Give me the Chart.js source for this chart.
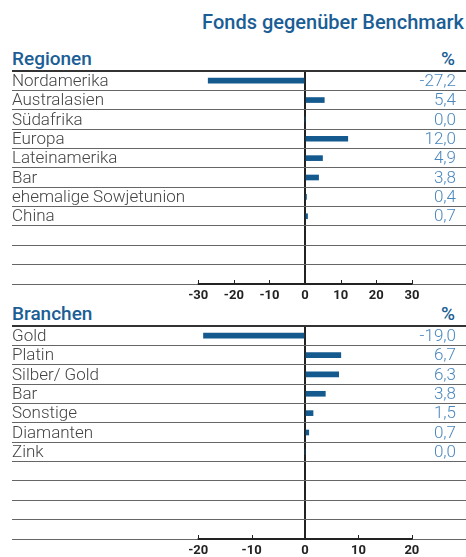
<!DOCTYPE html>
<html><head><meta charset="utf-8">
<script src="https://cdn.jsdelivr.net/npm/chart.js@4/dist/chart.umd.min.js"></script>
<style>
html,body{margin:0;padding:0;background:#fff;width:466px;height:557px;overflow:hidden;font-family:Roboto,sans-serif;}
.t{position:absolute;color:#1b5e95;font-weight:500;white-space:nowrap;line-height:1;font-size:19px;}
.box{position:absolute;left:0;width:466px;}
</style></head><body>
<div class="t" style="right:2px;top:12px;font-size:20px;">Fonds gegenüber Benchmark</div>
<div class="t" style="left:12px;top:49px;">Regionen</div>
<div class="t" style="right:11px;top:49px;">%</div>
<div class="t" style="left:12px;top:304px;">Branchen</div>
<div class="t" style="right:11px;top:304px;">%</div>
<div class="box" style="top:60px;height:250px"><canvas id="c1"></canvas></div>
<div class="box" style="top:315px;height:242px"><canvas id="c2"></canvas></div>
<script>
const regionLabels = ['Nordamerika','Australasien','Südafrika','Europa','Lateinamerika','Bar','ehemalige Sowjetunion','China'];
const regionValues = [-27.2, 5.4, 0.0, 12.0, 4.9, 3.8, 0.4, 0.7];
const regionTicks = [-30, -20, -10, 0, 10, 20, 30];
const regionBlankRows = 3;

const sectorLabels = ['Gold','Platin','Silber/ Gold','Bar','Sonstige','Diamanten','Zink'];
const sectorValues = [-19.0, 6.7, 6.3, 3.8, 1.5, 0.7, 0.0];
const sectorTicks = [-20, -10, 0, 10, 20];
const sectorBlankRows = 4;

const fmt = v => v.toFixed(1).replace('.', ',');

const axisLinePlugin = {
  id: 'axisLine',
  afterDraw(chart) {
    const xs = chart.scales.x, ctx = chart.ctx, y = chart.chartArea.bottom;
    const t = xs.ticks;
    ctx.save();
    ctx.strokeStyle = '#222';
    ctx.lineWidth = 2;
    ctx.beginPath();
    ctx.moveTo(xs.getPixelForValue(t[0].value) - 0.5, y);
    ctx.lineTo(xs.getPixelForValue(t[t.length - 1].value) + 0.5, y);
    ctx.stroke();
    ctx.lineWidth = 1;
    t.forEach(tk => {
      const px = Math.round(xs.getPixelForValue(tk.value)) + 0.5;
      ctx.beginPath(); ctx.moveTo(px, y); ctx.lineTo(px, y - 4); ctx.stroke();
    });
    ctx.restore();
  }
};

function makeChart(id, labels, values, ticks, blanks, min, max, axisH) {
  const rowLabels = labels.concat(Array(blanks).fill(''));
  const rowValues = values.concat(Array(blanks).fill(null));
  const valueLabels = values.map(fmt).concat(Array(blanks).fill(''));
  return new Chart(document.getElementById(id), {
    type: 'bar',
    data: {
      labels: rowLabels,
      datasets: [{
        data: rowValues,
        backgroundColor: '#155a8f',
        borderWidth: 0,
        barThickness: 5,
        xAxisID: 'x', yAxisID: 'y'
      }]
    },
    plugins: [axisLinePlugin],
    options: {
      indexAxis: 'y',
      responsive: true,
      maintainAspectRatio: false,
      animation: false,
      devicePixelRatio: 1,
      layout: { padding: { top: 11, left: 12, right: 0, bottom: 0 } },
      plugins: { legend: { display: false }, tooltip: { enabled: false } },
      scales: {
        x: {
          type: 'linear', min: min, max: max, position: 'bottom',
          afterBuildTicks: s => { s.ticks = ticks.map(v => ({ value: v })); },
          afterFit: s => { s.height = axisH; },
          border: { display: false },
          grid: {
            drawTicks: false,
            lineWidth: 2,
            color: c => (c.tick && c.tick.value === 0) ? '#222' : 'rgba(0,0,0,0)'
          },
          ticks: {
            padding: 4, autoSkip: false, maxRotation: 0,
            color: '#222',
            font: { family: 'Roboto', size: 13, weight: 'bold' },
            callback: v => String(v)
          }
        },
        y: {
          type: 'category', position: 'left', offset: true,
          afterFit: s => { s.width = 0; },
          border: { display: false },
          grid: {
            offset: true, drawTicks: false,
            color: c => c.index === 0 ? '#333' : '#666',
            lineWidth: c => c.index === 0 ? 2 : 1
          },
          ticks: {
            mirror: true, padding: 0, labelOffset: 1, autoSkip: false,
            color: '#444',
            font: { family: 'Roboto', size: 17, weight: '300' }
          }
        },
        y2: {
          type: 'category', position: 'right', offset: true,
          labels: valueLabels,
          afterFit: s => { s.width = 0; },
          border: { display: false },
          grid: { display: false },
          ticks: {
            mirror: true, padding: -10, labelOffset: 1, autoSkip: false,
            color: '#4a87bd',
            font: { family: 'Roboto', size: 17, weight: '300' }
          }
        }
      }
    }
  });
}

makeChart('c1', regionLabels, regionValues, regionTicks, regionBlankRows, -82.3, 45.2, 26);
makeChart('c2', sectorLabels, sectorValues, sectorTicks, sectorBlankRows, -54.84, 30.13, 18);
</script>
</body></html>
